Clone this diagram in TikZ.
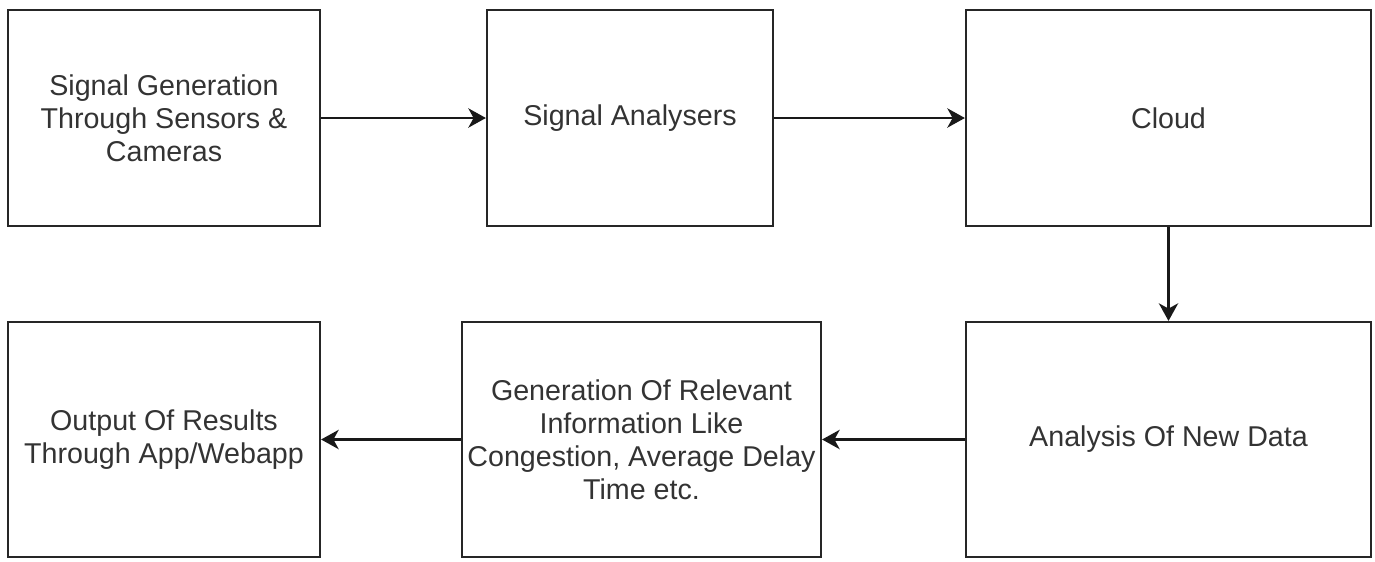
\documentclass[tikz,border=0pt]{standalone}
\usepackage{fontspec}
\setmainfont{Liberation Sans}
\usetikzlibrary{arrows.meta}

\begin{document}
\begin{tikzpicture}[
    stagebox/.style={draw=black!85, line width=1.25pt, rectangle, align=center,
      text=black!80, font=\fontsize{16.3}{18.8}\selectfont, inner sep=0pt},
    flow/.style={draw=black!90, line width=1.3pt,
      -{Stealth[length=10pt, width=11pt, inset=3pt]}}
  ]
      \useasboundingbox (0, 0) rectangle (27.5, -11.22);

      % top row
      \node[stagebox, minimum width=6.24cm, minimum height=4.32cm] (sensing) at (3.28, -2.36)
        {Signal Generation\\Through Sensors \&\\Cameras};
      \node[stagebox, minimum width=5.72cm, minimum height=4.32cm] (analysers) at (12.6, -2.36)
        {Signal Analysers};
      \node[stagebox, minimum width=8.1cm, minimum height=4.32cm] (cloud) at (23.37, -2.36)
        {Cloud};

      % bottom row
      \node[stagebox, minimum width=8.1cm, minimum height=4.7cm] (analysis) at (23.37, -8.79)
        {Analysis Of New Data};
      \node[stagebox, minimum width=7.18cm, minimum height=4.7cm] (relevant) at (12.83, -8.79)
        {Generation Of Relevant\\Information Like\\Congestion, Average Delay\\Time etc.};
      \node[stagebox, minimum width=6.24cm, minimum height=4.7cm] (output) at (3.28, -8.79)
        {Output Of Results\\Through App/Webapp};

      \draw[flow] (sensing) -- (analysers);
      \draw[flow] (analysers) -- (cloud);
      \draw[flow] (cloud) -- (analysis);
      \draw[flow] (analysis) -- (relevant);
      \draw[flow] (relevant) -- (output);
    \end{tikzpicture}
\end{document}
